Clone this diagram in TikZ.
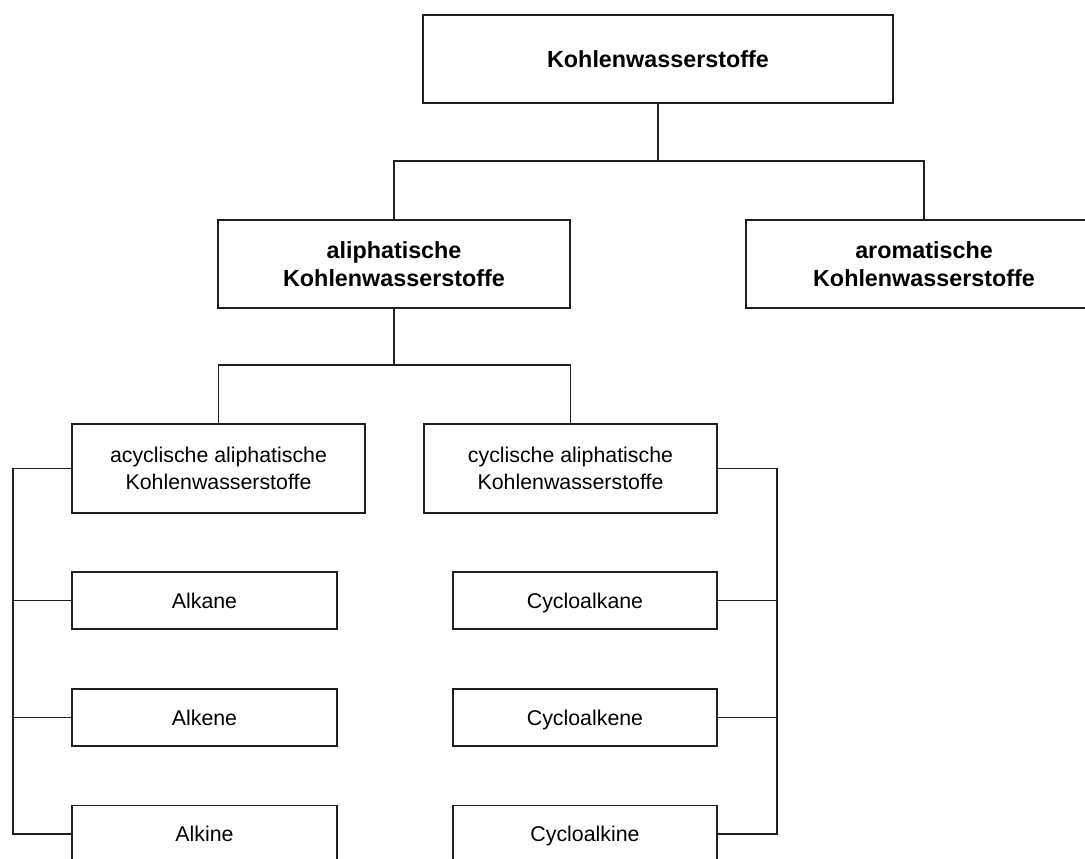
\documentclass[tikz,border=0pt]{standalone}
\usepackage{fontspec}
\setmainfont{Liberation Sans}
\begin{document}
\begin{tikzpicture}[x=0.75pt,y=-0.75pt,
  line/.style={draw=black!88,line width=1.2pt},
  box/.style={line,rectangle,inner sep=0pt,align=center,text=black},
  bigbox/.style={box,font=\fontsize{17.5}{21}\selectfont\bfseries},
  smallbox/.style={box,font=\fontsize{16}{20}\selectfont},
  leafbox/.style={smallbox,text height=13pt,text depth=1.5pt,minimum height=57*0.75pt}]
\useasboundingbox (0,0) rectangle (1085,859);
\clip (0,0) rectangle (1085,859);
% top level
\node[bigbox,minimum width=470*0.75pt,minimum height=88*0.75pt] (top) at (658,59) {Kohlenwasserstoffe};
\node[bigbox,minimum width=352*0.75pt,minimum height=88*0.75pt] (ali) at (394,264) {aliphatische\\Kohlenwasserstoffe};
\node[bigbox,minimum width=356*0.75pt,minimum height=88*0.75pt] (aro) at (924,264) {aromatische\\Kohlenwasserstoffe};
% second level
\node[smallbox,minimum width=293*0.75pt,minimum height=89*0.75pt] (acy) at (218.5,468.5) {acyclische aliphatische\\Kohlenwasserstoffe};
\node[smallbox,minimum width=293*0.75pt,minimum height=89*0.75pt] (cyc) at (570.5,468.5) {cyclische aliphatische\\Kohlenwasserstoffe};
% leaves
\node[leafbox,minimum width=265*0.75pt] (alkane) at (204.5,600.5) {Alkane};
\node[leafbox,minimum width=265*0.75pt] (alkene) at (204.5,717.5) {Alkene};
\node[leafbox,minimum width=265*0.75pt] (alkine) at (204.5,834) {Alkine};
\node[leafbox,minimum width=264*0.75pt] (calkane) at (585,600.5) {Cycloalkane};
\node[leafbox,minimum width=264*0.75pt] (calkene) at (585,717.5) {Cycloalkene};
\node[leafbox,minimum width=264*0.75pt] (calkine) at (585,834) {Cycloalkine};
% connectors
\coordinate (j1) at (658,161);
\draw[line] (top.south) -- (j1);
\draw[line] (ali.north) |- (j1) -| (aro.north);
\coordinate (j2) at (394,365);
\draw[line] (ali.south) -- (j2);
\draw[line] (acy.north) |- (j2) -| (cyc.north);
\coordinate (L) at (13,0);
\coordinate (R) at (777,0);
\draw[line] (acy.west) -- (acy.west -| L) |- (alkine.west);
\draw[line] (alkane.west) -- (alkane.west -| L);
\draw[line] (alkene.west) -- (alkene.west -| L);
\draw[line] (cyc.east) -- (cyc.east -| R) |- (calkine.east);
\draw[line] (calkane.east) -- (calkane.east -| R);
\draw[line] (calkene.east) -- (calkene.east -| R);
\end{tikzpicture}
\end{document}
